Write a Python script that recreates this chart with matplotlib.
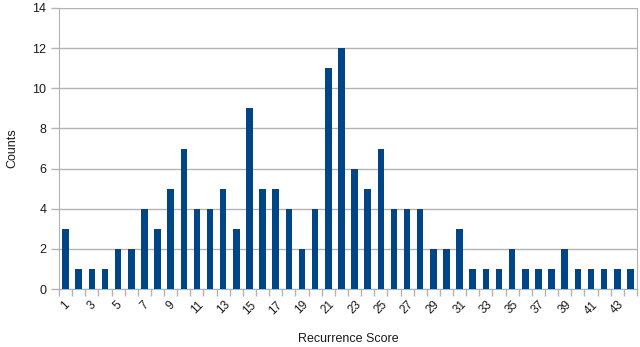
import matplotlib
matplotlib.use("Agg")
import matplotlib.pyplot as plt
import numpy as np

plt.rcParams['font.family'] = ['Liberation Sans', 'DejaVu Sans']

scores = list(range(1, 45))
counts = [3, 1, 1, 1, 2, 2, 4, 3, 5, 7, 4, 4, 5, 3, 9, 5, 5, 4, 2, 4,
          11, 12, 6, 5, 7, 4, 4, 4, 2, 2, 3, 1, 1, 1, 2, 1, 1, 1, 2, 1,
          1, 1, 1, 1]
tick_labels = [str(s) for s in scores if s % 2 == 1]

fig = plt.figure(figsize=(6.4, 3.47), dpi=100)
ax = fig.add_axes([0.0922, 0.167, 0.903, 0.81])

x = np.arange(len(scores))
ax.bar(x, counts, width=0.5, color='#004586', zorder=3)

ax.set_xlim(-0.5, len(scores) - 0.5)
ax.set_ylim(0, 14)
ax.set_yticks(range(0, 15, 2))
ax.yaxis.grid(True, color='#b3b3b3', linewidth=1, zorder=0)
ax.tick_params(axis='y', length=6, color='#b3b3b3', width=1, labelsize=9, pad=3, labelcolor='#1a1a1a')

ax.set_xticks([i for i, s in enumerate(scores) if s % 2 == 1])
ax.set_xticklabels(tick_labels, rotation=45, ha='center', fontsize=8.5, color='#1a1a1a')
ax.set_xticks(np.arange(-0.5, len(scores), 1.0), minor=True)
ax.tick_params(axis='x', which='major', length=0, pad=7)
ax.tick_params(axis='x', which='minor', length=5, color='#b3b3b3', width=1)

for side in ['left', 'right', 'bottom']:
    ax.spines[side].set_color('#b3b3b3')
ax.spines['top'].set_visible(False)

ax.set_xlabel('Recurrence Score', fontsize=9, labelpad=12, color='#1a1a1a')
ax.set_ylabel('Counts', fontsize=9, labelpad=10, color='#1a1a1a')

fig.savefig('out.png', dpi=100)
